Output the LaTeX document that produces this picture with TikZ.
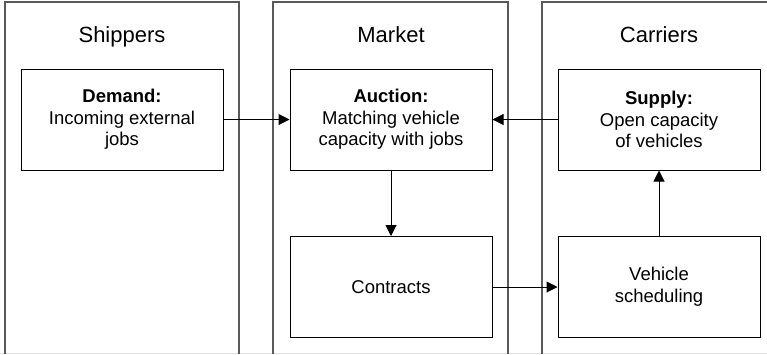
\documentclass[tikz,border=0pt]{standalone}
\usepackage{fontspec}
\setmainfont{Liberation Sans}
\usetikzlibrary{arrows.meta}
\begin{document}
\begin{tikzpicture}[x=1pt,y=-1pt,
  lane/.style={draw=black!65,line width=1.6pt},
  title/.style={font=\fontsize{22}{26}\selectfont,anchor=base},
  box/.style={draw=black,line width=1pt,minimum width=202pt,minimum height=101pt,
    align=center,inner sep=0pt,font=\fontsize{18.5}{21.7}\selectfont},
  flow/.style={draw=black,line width=1pt,-{Triangle[length=11pt,width=11pt]}}]
\useasboundingbox (0,0) rectangle (767,354);
% faint bottom edge
\draw[black!12,line width=0.8pt] (0,353) -- (767,353);
% lanes
\draw[lane] (5,354) -- (5,2) -- (239,2) -- (239,354);
\draw[lane] (273,354) -- (273,2) -- (508,2) -- (508,354);
\draw[lane] (542,354) -- (542,2) -- (767,2);
% titles
\node[title] (tship) at (122,42.7) {Shippers};
\node[title] (tmarket) at (391,42.7) {Market};
\node[title] (tcarr) at (659,42.7) {Carriers};
% boxes
\node[box] (demand) at (122,119.5) {\textbf{Demand:}\\Incoming external\\jobs};
\node[box] (auction) at (391,119.5) {\textbf{Auction:}\\Matching vehicle\\capacity with jobs};
\node[box] (supply) at (659,119.5) {\textbf{Supply:}\\Open capacity\\of vehicles};
\node[box] (contracts) at (391,287) {Contracts};
\node[box] (vehicle) at (659,287) {Vehicle\\scheduling};
% connectors
\draw[flow] (demand) -- (auction);
\draw[flow] (supply) -- (auction);
\draw[flow] (auction) -- (contracts);
\draw[flow] (contracts) -- (vehicle);
\draw[flow] (vehicle) -- (supply);
\end{tikzpicture}
\end{document}
